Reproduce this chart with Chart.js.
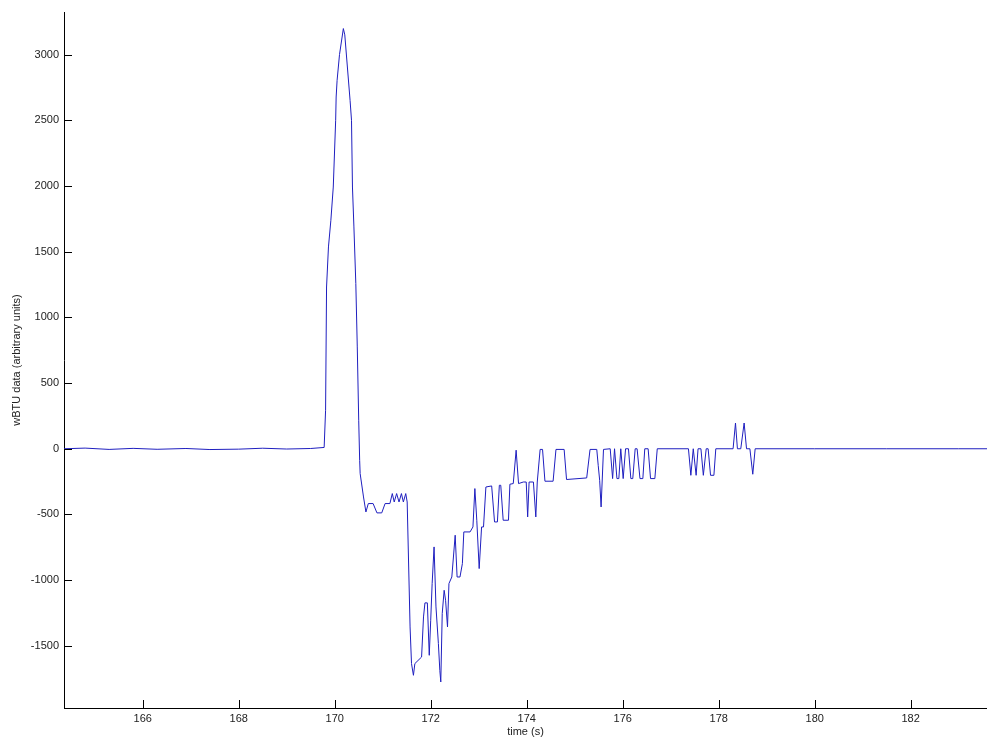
<!DOCTYPE html>
<html>
<head>
<meta charset="utf-8">
<script src="https://cdn.jsdelivr.net/npm/chart.js@4"></script>
<style>
  html, body { margin: 0; padding: 0; background: #fff; }
  #wrap { width: 987px; height: 743px; }
</style>
</head>
<body>
<div id="wrap"><canvas id="chart"></canvas></div>
<script>
// time axis (s) and wBTU values
var times = [
  164.36, 164.8, 165.3, 165.8, 166.3, 166.9, 167.4, 168.0, 168.5, 169.0, 169.5, 169.78,
  169.81, 169.83, 169.87, 169.92, 169.97, 170.02, 170.03, 170.05, 170.10, 170.18, 170.21, 170.32,
  170.35, 170.37, 170.40, 170.44, 170.47, 170.50, 170.52, 170.53, 170.60, 170.65, 170.70, 170.80,
  170.88, 170.98, 171.05, 171.15, 171.20, 171.24, 171.29, 171.34, 171.39, 171.43, 171.48, 171.51,
  171.57, 171.60, 171.64, 171.67, 171.81, 171.85, 171.88, 171.93, 171.97, 172.00, 172.03, 172.07,
  172.11, 172.16, 172.19, 172.21, 172.24, 172.28, 172.31, 172.35, 172.38, 172.44, 172.51, 172.55,
  172.61, 172.66, 172.69, 172.82, 172.88, 172.92, 172.96, 173.01, 173.06, 173.10, 173.15, 173.27,
  173.33, 173.39, 173.43, 173.46, 173.51, 173.62, 173.65, 173.72, 173.78, 173.83, 173.93, 173.99,
  174.02, 174.05, 174.14, 174.19, 174.22, 174.28, 174.33, 174.38, 174.55, 174.61, 174.78, 174.83,
  175.25, 175.32, 175.46, 175.49, 175.52, 175.55, 175.60, 175.74, 175.79, 175.83, 175.88, 175.92,
  175.96, 176.01, 176.06, 176.12, 176.17, 176.21, 176.26, 176.30, 176.36, 176.42, 176.46, 176.53,
  176.58, 176.67, 176.72, 177.37, 177.42, 177.47, 177.53, 177.57, 177.63, 177.68, 177.74, 177.78,
  177.83, 177.90, 177.94, 178.30, 178.35, 178.39, 178.46, 178.53, 178.58, 178.65, 178.71, 178.76,
  180.0, 181.5, 183.0, 183.59
];
var wbtu = [
  0, 5, -5, 3, -4, 2, -6, -3, 4, -2, 2, 10,
  293, 1231, 1536, 1739, 1992, 2500, 2677, 2804, 3000, 3198, 3150, 2652,
  2500, 1992, 1688, 1257, 775, 217, -88, -189, -367, -481, -417, -417,
  -488, -488, -417, -417, -341, -405, -341, -405, -341, -405, -341, -405,
  -1356, -1635, -1724, -1635, -1585, -1280, -1173, -1173, -1572, -1305, -1026, -747,
  -1204, -1482, -1686, -1775, -1254, -1077, -1153, -1356, -1026, -976, -658, -976,
  -976, -874, -633, -633, -595, -303, -544, -912, -595, -595, -291, -283,
  -557, -557, -278, -278, -544, -544, -270, -265, -11, -265, -253, -253,
  -519, -253, -253, -519, -253, -5, -5, -247, -247, -5, -5, -234,
  -222, -5, -5, -126, -240, -443, -5, 0, -227, 0, -227, -227,
  0, -227, 0, 0, -227, -227, 0, 0, -227, -227, 0, 0,
  -227, -227, 0, 0, -202, 0, -202, 0, 0, -202, 0, 0,
  -202, -202, 0, 0, 196, 0, 0, 196, 0, 0, -194, 0,
  0, 0, 0, 0
];
var xTicks = [166, 168, 170, 172, 174, 176, 178, 180, 182];
var yTicks = [-1500, -1000, -500, 0, 500, 1000, 1500, 2000, 2500, 3000];
var xRange = [164.36, 183.59];
var yRange = [-1973, 3324];

var points = times.map(function(t, i) { return { x: t, y: wbtu[i] }; });

// MATLAB style ticks pointing into the axes
var innerTicks = {
    id: 'innerTicks',
    afterDraw: function(chart) {
        var c = chart.ctx, a = chart.chartArea;
        var xs = chart.scales.x, ys = chart.scales.y;
        c.save();
        c.strokeStyle = '#000';
        c.lineWidth = 1;
        c.beginPath();
        xTicks.forEach(function(v) {
            var px = Math.round(xs.getPixelForValue(v)) + 0.5;
            c.moveTo(px, a.bottom);
            c.lineTo(px, a.bottom - 8);
        });
        yTicks.forEach(function(v) {
            var py = Math.round(ys.getPixelForValue(v)) + 0.5;
            c.moveTo(a.left, py);
            c.lineTo(a.left + 8, py);
        });
        c.stroke();
        c.restore();
    }
};

function plain(value) { return String(value); }

Chart.defaults.font.family = '"Liberation Sans", Arial, sans-serif';

new Chart(document.getElementById('chart'), {
    type: 'line',
    data: {
        datasets: [{
            data: points,
            borderColor: '#1f1fbf',
            borderWidth: 1,
            pointRadius: 0,
            tension: 0,
            fill: false
        }]
    },
    options: {
        responsive: true,
        maintainAspectRatio: false,
        animation: false,
        parsing: false,
        layout: { padding: { top: 12, right: 0, bottom: 0, left: 0 } },
        plugins: { legend: { display: false }, tooltip: { enabled: false } },
        scales: {
            x: {
                type: 'linear',
                min: xRange[0],
                max: xRange[1],
                afterBuildTicks: function(s) { s.ticks = xTicks.map(function(v) { return { value: v }; }); },
                afterFit: function(s) { s.height = 35; s.paddingLeft = 0; s.paddingRight = 0; },
                grid: { drawOnChartArea: false, drawTicks: false },
                border: { display: true, color: '#000', width: 1 },
                ticks: { color: '#222', font: { size: 11 }, padding: 4, maxRotation: 0, callback: plain },
                title: { display: true, text: 'time (s)', color: '#222', font: { size: 11 }, padding: { top: 0, bottom: 4 } }
            },
            y: {
                type: 'linear',
                min: yRange[0],
                max: yRange[1],
                afterBuildTicks: function(s) { s.ticks = yTicks.map(function(v) { return { value: v }; }); },
                afterFit: function(s) { s.width = 64; s.paddingTop = 0; s.paddingBottom = 0; },
                grid: { drawOnChartArea: false, drawTicks: false },
                border: { display: true, color: '#000', width: 1 },
                ticks: { color: '#222', font: { size: 11 }, padding: 5, callback: plain },
                title: { display: true, text: 'wBTU data (arbitrary units)', color: '#222', font: { size: 11 }, padding: { top: 10, bottom: 0 } }
            }
        }
    },
    plugins: [innerTicks]
});
</script>
</body>
</html>
